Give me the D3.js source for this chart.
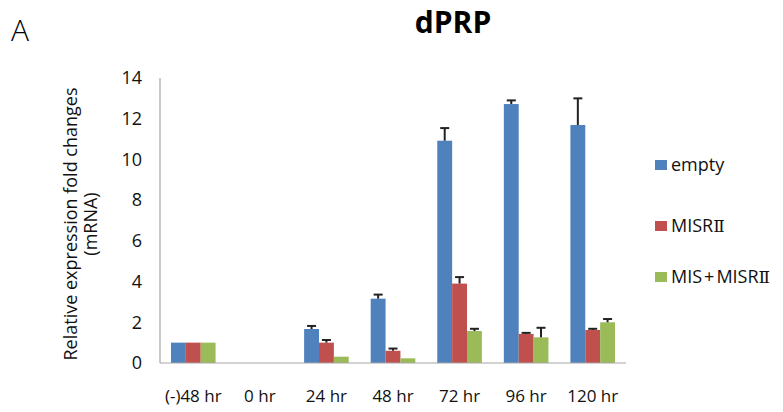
<!DOCTYPE html>
<html><head><meta charset="utf-8">
<script src="https://cdn.jsdelivr.net/npm/d3@7/dist/d3.min.js"></script>
<style>body{margin:0;background:#fff}svg{display:block}text{font-family:"Open Sans","Noto Sans","Noto Sans CJK KR",sans-serif}</style>
</head><body>
<script>
const categories = ["(-)48 hr","0 hr","24 hr","48 hr","72 hr","96 hr","120 hr"];
const seriesNames = ["empty","MISRⅡ","MIS+MISRⅡ"];
const emptyVals = [1.0, 0, 1.67, 3.16, 10.92, 12.72, 11.69];
const emptyErr  = [0, 0, 0.15, 0.20, 0.62, 0.18, 1.31];
const misrVals  = [1.0, 0, 1.0, 0.60, 3.90, 1.43, 1.62];
const misrErr   = [0, 0, 0.13, 0.11, 0.32, 0.05, 0.06];
const misVals   = [1.0, 0, 0.31, 0.23, 1.57, 1.26, 2.0];
const misErr    = [0, 0, 0, 0, 0.11, 0.47, 0.16];
const yTicks = [0,2,4,6,8,10,12,14];
const colors = ["#4F81BD","#C0504D","#9BBB59"];

const W=783,H=412;
const svg=d3.select("body").append("svg").attr("width",W).attr("height",H);
const x0=160,x1=626,yTop=78,yBot=363;
const x=d3.scaleBand().domain(categories).range([x0,x1]).paddingInner(0).paddingOuter(0);
const y=d3.scaleLinear().domain([0,14]).range([yBot,yTop]);
const inner=d3.scaleBand().domain(seriesNames).range([0,x.bandwidth()*0.67]);
const offset=x.bandwidth()*0.165;

const series=[[emptyVals,emptyErr],[misrVals,misrErr],[misVals,misErr]];

// axes
svg.append("line").attr("x1",x0).attr("x2",x0).attr("y1",y(14)).attr("y2",yBot).attr("stroke","#a6a6a6").attr("stroke-width",1.2);
svg.append("g").selectAll("text").data(yTicks).join("text")
  .attr("x",142).attr("y",d=>y(d)).attr("dy","0.35em").attr("text-anchor","end")
  .attr("font-size",18).attr("fill","#111").text(d=>d);

series.forEach(([vals,errs],si)=>{
  const g=svg.append("g");
  g.selectAll("rect").data(categories).join("rect")
    .attr("x",(c)=>x(c)+offset+inner(seriesNames[si]))
    .attr("width",inner.bandwidth())
    .attr("y",(c,i)=>y(vals[i]))
    .attr("height",(c,i)=>yBot-y(vals[i]))
    .attr("fill",colors[si]);
  categories.forEach((c,i)=>{
    if(errs[i]>0){
      const cx=x(c)+offset+inner(seriesNames[si])+inner.bandwidth()/2;
      g.append("line").attr("x1",cx).attr("x2",cx).attr("y1",y(vals[i])).attr("y2",y(vals[i]+errs[i])).attr("stroke","#222").attr("stroke-width",2);
      g.append("line").attr("x1",cx-4.5).attr("x2",cx+4.5).attr("y1",y(vals[i]+errs[i])).attr("y2",y(vals[i]+errs[i])).attr("stroke","#222").attr("stroke-width",2);
    }
  });
});

svg.append("line").attr("x1",x0).attr("x2",x1).attr("y1",yBot).attr("y2",yBot).attr("stroke","#a6a6a6").attr("stroke-width",1.2);
svg.append("g").selectAll("text").data(categories).join("text")
  .attr("x",c=>x(c)+x.bandwidth()/2).attr("y",396).attr("dy","0.35em").attr("text-anchor","middle")
  .attr("font-size",17).attr("fill","#111").text(c=>c);

// y title
const yt=svg.append("text").attr("transform","translate(0,224) rotate(-90)").attr("text-anchor","middle").attr("font-size",18).attr("fill","#111");
yt.append("tspan").attr("x",0).attr("y",77).text("Relative expression fold changes");
yt.append("tspan").attr("x",0).attr("y",97).text("(mRNA)");

// title
svg.append("text").attr("x",453).attr("y",33).attr("text-anchor","middle").attr("font-size",30).attr("font-weight","bold").attr("fill","#000").text("dPRP");
svg.append("text").attr("x",11).attr("y",41).attr("font-size",30).attr("font-weight",300).attr("fill","#000").attr("font-family","Lato, 'Open Sans', sans-serif").text("A");

// legend
const ly=[165,226,277];
const leg=svg.append("g").selectAll("g").data(seriesNames).join("g").attr("transform",(d,i)=>`translate(655,${ly[i]})`);
leg.append("rect").attr("x",0).attr("y",-5).attr("width",12).attr("height",10).attr("fill",(d,i)=>colors[i]);
const lt=leg.append("text").attr("x",16).attr("y",0).attr("dy","0.35em").attr("font-size",18).attr("fill","#111");
lt.each(function(d){
  const t=d3.select(this);
  const parts=d.split(/(\+|Ⅱ)/).filter(s=>s.length);
  parts.forEach((p,i)=>{
    const s=t.append("tspan").text(p);
    if(p==="Ⅱ") s.attr("font-family","'DejaVu Serif',serif").attr("font-size",17);
    if(p==="+") s.attr("dx",2);
    if(i>0 && parts[i-1]==="+") s.attr("dx",2);
  });
});
</script>
</body></html>
